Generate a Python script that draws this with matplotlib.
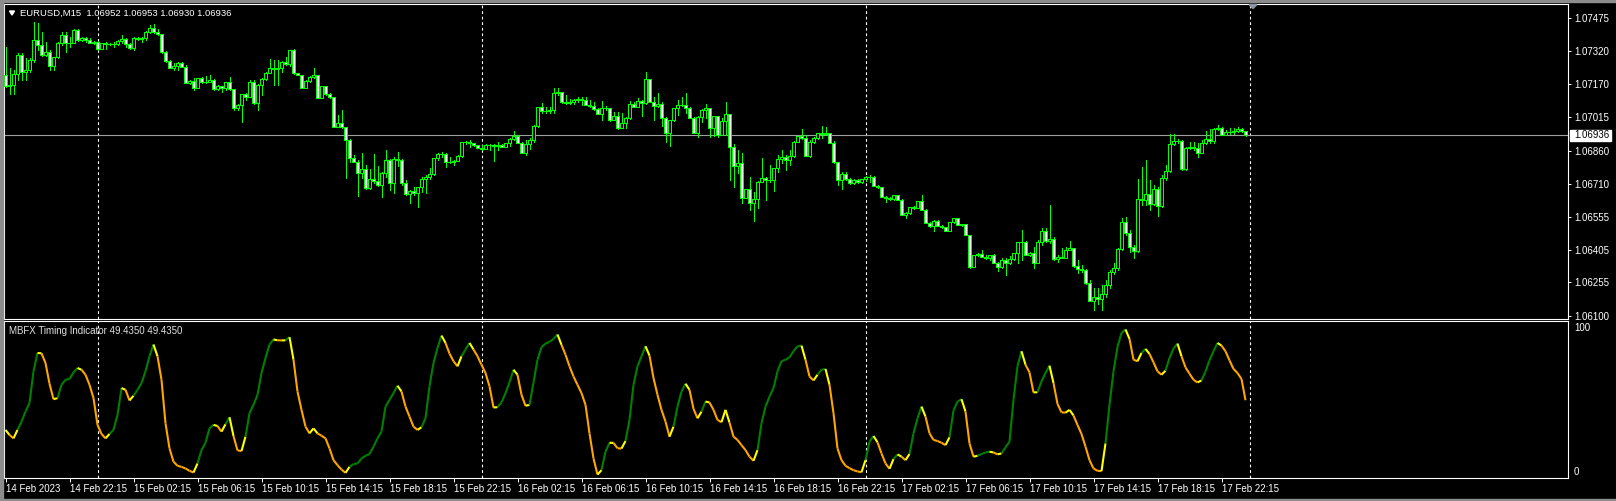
import numpy as np
import matplotlib
matplotlib.use("Agg")
import matplotlib.pyplot as plt
from matplotlib.collections import LineCollection
from matplotlib.patches import Rectangle, Polygon

plt.rcParams["font.family"] = ["Liberation Sans", "DejaVu Sans"]

# EURUSD M15 bars, 14 Feb 18:15 -> 17 Feb 23:45
# prices in points above 1.06000 (1 point = 0.00001)
opens = [
    1211, 1160, 1165, 1216, 1303, 1225, 1234, 1280, 1373, 1350,
    1303, 1317, 1252, 1294, 1359, 1396, 1359, 1360, 1419, 1373,
    1382, 1373, 1359, 1364, 1331, 1359, 1354, 1355, 1354, 1368,
    1377, 1354, 1336, 1382, 1377, 1382, 1410, 1428, 1410, 1400,
    1317, 1275, 1243, 1252, 1266, 1248, 1174, 1183, 1151, 1197,
    1178, 1179, 1188, 1146, 1160, 1151, 1178, 1146, 1059, 1073,
    1124, 1110, 1178, 1082, 1165, 1193, 1220, 1243, 1239, 1243,
    1271, 1262, 1326, 1220, 1211, 1151, 1183, 1202, 1211, 1105,
    1160, 1124, 1110, 971, 990, 971, 912, 829, 810, 759,
    778, 690, 732, 722, 704, 759, 819, 713, 824, 819,
    713, 663, 676, 667, 695, 732, 741, 755, 829, 847,
    848, 810, 811, 815, 838, 903, 904, 898, 889, 875,
    870, 889, 890, 884, 889, 879, 898, 916, 930, 898,
    852, 893, 912, 976, 1064, 1045, 1046, 1050, 1128, 1133,
    1087, 1082, 1087, 1096, 1100, 1096, 1073, 1068, 1054, 1031,
    1059, 1058, 1004, 1022, 967, 990, 1013, 1077, 1064, 1091,
    1082, 1193, 1087, 1068, 1077, 1013, 944, 1004, 1059, 1073,
    1074, 1059, 1013, 944, 1018, 1050, 1059, 967, 1022, 935,
    999, 1031, 879, 792, 805, 644, 686, 621, 639, 718,
    736, 727, 728, 782, 824, 833, 819, 838, 903, 930,
    921, 838, 903, 921, 944, 939, 944, 898, 810, 727,
    755, 732, 713, 727, 718, 732, 741, 742, 699, 695,
    649, 644, 639, 658, 635, 566, 575, 603, 598, 630,
    589, 529, 515, 538, 515, 511, 492, 534, 552, 520,
    524, 474, 326, 381, 386, 372, 367, 381, 344, 326,
    358, 344, 363, 391, 441, 442, 381, 391, 344, 441,
    492, 446, 455, 363, 372, 367, 404, 414, 331, 317,
    312, 252, 169, 188, 178, 201, 243, 303, 321, 409,
    534, 483, 418, 400, 639, 635, 663, 617, 686, 607,
    736, 769, 893, 907, 908, 778, 875, 879, 875, 852,
    898, 916, 907, 962, 967, 935, 948, 949, 953, 962, 952,
]
closes = [
    1160, 1165, 1216, 1303, 1225, 1234, 1280, 1373, 1350, 1303,
    1317, 1252, 1294, 1359, 1396, 1359, 1360, 1419, 1373, 1382,
    1373, 1359, 1364, 1331, 1359, 1354, 1355, 1354, 1368, 1377,
    1354, 1336, 1382, 1377, 1382, 1410, 1428, 1410, 1400, 1317,
    1275, 1243, 1252, 1266, 1248, 1174, 1183, 1151, 1197, 1178,
    1179, 1188, 1146, 1160, 1151, 1178, 1146, 1059, 1073, 1124,
    1110, 1178, 1082, 1165, 1193, 1220, 1243, 1239, 1243, 1271,
    1262, 1326, 1220, 1211, 1151, 1183, 1202, 1211, 1105, 1160,
    1124, 1110, 971, 990, 971, 912, 829, 810, 759, 778,
    690, 732, 722, 704, 759, 819, 713, 824, 819, 713,
    663, 676, 667, 695, 732, 741, 755, 829, 847, 848,
    810, 811, 815, 838, 903, 904, 898, 889, 875, 870,
    889, 890, 884, 889, 879, 898, 916, 930, 898, 852,
    893, 912, 976, 1064, 1045, 1046, 1050, 1128, 1133, 1087,
    1082, 1087, 1096, 1100, 1096, 1073, 1068, 1054, 1031, 1059,
    1058, 1004, 1022, 967, 990, 1013, 1077, 1064, 1091, 1082,
    1193, 1087, 1068, 1077, 1013, 944, 1004, 1059, 1073, 1074,
    1059, 1013, 944, 1018, 1050, 1059, 967, 1022, 935, 999,
    1031, 879, 792, 805, 644, 686, 621, 639, 718, 736,
    727, 728, 782, 824, 833, 819, 838, 903, 930, 921,
    838, 903, 921, 944, 939, 944, 898, 810, 727, 755,
    732, 713, 727, 718, 732, 741, 742, 699, 695, 649,
    644, 639, 658, 635, 566, 575, 603, 598, 630, 589,
    529, 515, 538, 515, 511, 492, 534, 552, 520, 524,
    474, 326, 381, 386, 372, 367, 381, 344, 326, 358,
    344, 363, 391, 441, 442, 381, 391, 344, 441, 492,
    446, 455, 363, 372, 367, 404, 414, 331, 317, 312,
    252, 169, 188, 178, 201, 243, 303, 321, 409, 534,
    483, 418, 400, 639, 635, 663, 617, 686, 607, 736,
    769, 893, 907, 908, 778, 875, 879, 875, 852, 898,
    916, 907, 962, 967, 935, 948, 949, 953, 962, 952, 936,
]
highs = [
    1341, 1243, 1234, 1312, 1312, 1289, 1289, 1456, 1451, 1410,
    1364, 1326, 1296, 1361, 1410, 1410, 1387, 1423, 1423, 1387,
    1387, 1382, 1368, 1368, 1360, 1364, 1359, 1364, 1373, 1396,
    1382, 1359, 1387, 1387, 1387, 1414, 1442, 1447, 1423, 1401,
    1322, 1280, 1266, 1271, 1271, 1257, 1188, 1197, 1198, 1202,
    1206, 1211, 1193, 1165, 1161, 1179, 1202, 1147, 1077, 1125,
    1128, 1188, 1188, 1169, 1197, 1225, 1285, 1280, 1280, 1275,
    1294, 1327, 1331, 1221, 1212, 1188, 1206, 1243, 1212, 1161,
    1161, 1128, 1111, 1027, 1050, 972, 916, 842, 819, 852,
    796, 778, 847, 792, 764, 866, 824, 833, 856, 824,
    727, 681, 695, 696, 741, 750, 782, 830, 852, 856,
    849, 833, 819, 842, 904, 907, 912, 899, 890, 889,
    893, 893, 891, 903, 893, 899, 921, 953, 935, 903,
    912, 921, 981, 1065, 1082, 1064, 1064, 1151, 1151, 1134,
    1119, 1100, 1100, 1110, 1110, 1110, 1096, 1087, 1059, 1091,
    1068, 1059, 1041, 1041, 1036, 1018, 1091, 1087, 1105, 1096,
    1225, 1194, 1110, 1128, 1087, 1018, 1005, 1060, 1096, 1110,
    1128, 1064, 1018, 1022, 1055, 1077, 1060, 1023, 1023, 1013,
    1087, 1032, 893, 866, 852, 687, 741, 672, 723, 829,
    741, 796, 783, 842, 866, 842, 866, 907, 931, 963,
    935, 912, 926, 945, 976, 971, 945, 907, 811, 764,
    764, 736, 732, 732, 733, 746, 750, 743, 704, 696,
    653, 649, 659, 659, 639, 580, 604, 607, 631, 658,
    593, 534, 543, 543, 520, 512, 535, 553, 553, 525,
    525, 475, 382, 391, 404, 381, 382, 386, 349, 367,
    367, 377, 392, 442, 497, 446, 395, 418, 451, 506,
    506, 612, 464, 381, 414, 418, 446, 415, 358, 335,
    317, 266, 229, 229, 243, 266, 312, 344, 414, 552,
    557, 497, 427, 732, 787, 819, 727, 704, 695, 750,
    796, 939, 939, 916, 912, 879, 903, 903, 898, 912,
    953, 963, 967, 981, 971, 958, 967, 967, 971, 967, 953,
]
lows = [
    1156, 1124, 1124, 1188, 1188, 1188, 1225, 1271, 1326, 1300,
    1298, 1234, 1234, 1289, 1350, 1317, 1341, 1359, 1368, 1368,
    1364, 1358, 1354, 1326, 1330, 1331, 1350, 1341, 1350, 1359,
    1341, 1331, 1326, 1373, 1364, 1373, 1405, 1405, 1396, 1312,
    1271, 1242, 1234, 1234, 1246, 1173, 1169, 1142, 1150, 1174,
    1174, 1178, 1142, 1142, 1133, 1142, 1142, 1050, 1050, 995,
    1096, 1109, 1077, 1050, 1119, 1188, 1219, 1165, 1165, 1225,
    1257, 1252, 1216, 1210, 1150, 1150, 1178, 1197, 1104, 1104,
    1119, 1105, 970, 970, 967, 736, 810, 809, 653, 736,
    686, 686, 713, 699, 649, 741, 681, 667, 792, 704,
    658, 621, 658, 603, 672, 667, 732, 750, 819, 833,
    787, 806, 796, 814, 833, 893, 879, 884, 874, 866,
    869, 866, 815, 866, 878, 878, 884, 912, 897, 851,
    842, 870, 903, 971, 1036, 1036, 1036, 1036, 1119, 1082,
    1077, 1077, 1077, 1087, 1073, 1072, 1064, 1050, 1030, 1004,
    1050, 999, 1003, 962, 966, 967, 1008, 1063, 1063, 1022,
    1077, 1086, 1004, 1064, 976, 903, 884, 999, 1027, 1068,
    1036, 1012, 943, 926, 995, 1013, 926, 930, 926, 934,
    935, 727, 695, 759, 621, 643, 589, 538, 598, 717,
    635, 718, 676, 764, 805, 773, 796, 833, 902, 916,
    837, 833, 898, 916, 921, 935, 897, 806, 704, 686,
    727, 709, 709, 713, 713, 722, 718, 698, 690, 648,
    626, 635, 635, 634, 565, 552, 570, 593, 597, 588,
    528, 510, 492, 514, 506, 491, 491, 529, 519, 515,
    473, 321, 325, 377, 371, 363, 358, 343, 308, 321,
    289, 340, 358, 344, 358, 380, 377, 321, 343, 427,
    441, 437, 358, 349, 366, 366, 403, 326, 298, 303,
    247, 168, 128, 155, 128, 188, 229, 294, 312, 404,
    474, 395, 367, 395, 612, 612, 589, 612, 561, 603,
    727, 764, 889, 898, 773, 773, 870, 866, 833, 851,
    893, 898, 898, 958, 934, 934, 939, 939, 948, 948, 930,
]

# MBFX Timing Indicator, one value per bar
timing = [
    30.5, 27.3, 25.1, 30.5, 35.8, 42.2, 47.6, 67.9, 79.6, 79.4,
    73.2, 60.0, 50.1, 50.8, 59.3, 62.5, 63.0, 67.2, 70.0, 68.9,
    65.7, 59.3, 50.8, 33.7, 27.9, 25.1, 27.9, 30.5, 40.1, 57.2,
    56.1, 49.3, 52.3, 56.1, 60.4, 67.9, 77.5, 85.0, 77.5, 62.5,
    34.7, 18.7, 10.2, 7.6, 6.9, 5.9, 4.4, 3.3, 9.1, 17.6,
    22.3, 31.5, 33.7, 33.0, 29.4, 34.1, 38.6, 26.6, 17.4, 17.0,
    26.2, 41.2, 46.5, 52.9, 66.8, 76.4, 85.0, 88.2, 87.7, 87.6,
    87.7, 89.7, 75.3, 55.0, 43.3, 32.6, 28.3, 31.5, 28.3, 26.8,
    25.1, 18.7, 11.2, 8.0, 5.2, 3.1, 6.9, 8.7, 9.1, 12.3,
    14.0, 15.1, 19.8, 25.1, 29.4, 45.4, 49.7, 54.0, 58.7, 55.0,
    45.4, 39.0, 32.6, 30.5, 32.2, 37.9, 58.3, 73.2, 82.8, 90.7,
    86.0, 79.2, 74.3, 71.1, 77.5, 81.8, 86.0, 81.8, 77.5, 72.1,
    66.8, 58.3, 44.8, 45.0, 48.0, 54.0, 60.8, 68.9, 65.7, 52.9,
    45.9, 46.5, 60.8, 75.3, 83.3, 85.6, 86.7, 88.6, 91.4, 84.8,
    78.5, 71.1, 64.6, 59.3, 54.0, 46.5, 28.3, 12.3, 2.0, 4.8,
    16.6, 22.3, 22.2, 18.8, 18.6, 23.4, 36.9, 59.3, 71.1, 77.5,
    83.9, 77.9, 63.6, 52.9, 43.3, 35.8, 26.2, 32.6, 45.4, 55.0,
    60.0, 56.1, 43.9, 37.9, 42.2, 48.6, 48.0, 43.3, 36.9, 35.4,
    43.3, 35.2, 26.2, 24.1, 20.8, 17.6, 13.4, 10.8, 17.6, 34.7,
    45.4, 51.8, 57.2, 67.9, 74.3, 75.3, 76.8, 80.7, 83.9, 84.3,
    75.3, 64.6, 62.1, 65.7, 68.9, 69.4, 59.3, 41.2, 18.7, 11.2,
    7.6, 6.1, 4.8, 4.0, 3.5, 11.2, 23.0, 26.6, 22.6, 15.5,
    9.1, 5.7, 11.9, 14.9, 13.4, 11.2, 15.1, 28.3, 37.9, 45.4,
    39.0, 28.3, 24.1, 23.4, 22.3, 20.8, 25.8, 42.9, 48.6, 50.1,
    42.2, 21.9, 13.4, 14.0, 15.1, 16.1, 16.6, 16.1, 14.9, 15.5,
    19.4, 23.0, 49.7, 71.1, 80.7, 72.1, 67.2, 54.4, 54.6, 61.5,
    66.8, 71.5, 60.4, 47.1, 41.7, 41.5, 43.3, 39.7, 33.7, 27.9,
    19.8, 11.2, 5.9, 4.4, 4.2, 21.9, 46.5, 67.9, 83.5, 92.4,
    94.6, 88.6, 75.3, 74.3, 79.6, 82.2, 79.0, 73.6, 67.9, 65.7,
    68.3, 76.4, 82.4, 85.6, 77.5, 70.4, 66.4, 62.5, 60.8, 62.1,
    67.9, 74.9, 80.7, 86.0, 84.3, 80.7, 74.9, 69.4, 66.8, 63.0, 49.435,
]

time_labels = [
    "14 Feb 2023", "14 Feb 22:15", "15 Feb 02:15", "15 Feb 06:15", "15 Feb 10:15",
    "15 Feb 14:15", "15 Feb 18:15", "15 Feb 22:15", "16 Feb 02:15", "16 Feb 06:15",
    "16 Feb 10:15", "16 Feb 14:15", "16 Feb 18:15", "16 Feb 22:15", "17 Feb 02:15",
    "17 Feb 06:15", "17 Feb 10:15", "17 Feb 14:15", "17 Feb 18:15", "17 Feb 22:15",
]
price_ticks = [1.07475, 1.07320, 1.07170, 1.07015, 1.06860,
               1.06710, 1.06555, 1.06405, 1.06255, 1.06100]
day_starts = [23, 119, 215, 311]   # bar index of each midnight
bid = 1.06936
last_ohlc = "1.06952 1.06953 1.06930 1.06936"

W, H = 1616, 501
lime = "#00ff00"

o = 1.06 + np.array(opens) / 1e5
c = 1.06 + np.array(closes) / 1e5
hi = 1.06 + np.array(highs) / 1e5
lo = 1.06 + np.array(lows) / 1e5
x = np.arange(len(c))


def box(x0, y0, x1, y1):
    return [x0 / W, 1 - y1 / H, (x1 - x0) / W, (y1 - y0) / H]


fig = plt.figure(figsize=(W / 100, H / 100), dpi=100, facecolor="black")
ax = fig.add_axes(box(4.3, 4.3, 1568.3, 319))
ax2 = fig.add_axes(box(4.3, 321, 1568.3, 477.7))

for a in (ax, ax2):
    a.set_facecolor("black")
    for s in a.spines.values():
        s.set_color("white")
        s.set_linewidth(0.8)
    a.set_xlim(-0.3, 390.7)
    for d in day_starts:
        a.axvline(d, color="white", lw=0.8, ls=(0, (2.5, 2.5)), zorder=1)

# candles: lime wicks/outline, black body when up, white body when down
ax.vlines(x, lo, hi, color=lime, lw=0.7, antialiased=False, zorder=2)
bull = c >= o
ax.bar(x, np.abs(c - o), bottom=np.minimum(o, c), width=0.55,
       color=np.where(bull, "black", "white"), edgecolor=lime,
       linewidth=0.7, antialiased=False, zorder=3)
ax.axhline(bid, color="#a0a0a0", lw=0.8, zorder=1.5)

ax.set_ylim(1.06086, 1.075368)
ax.set_xticks([])
ax.yaxis.tick_right()
ax.set_yticks(price_ticks)
ax.set_yticklabels([f"{p:.5f}" for p in price_ticks])
ax.tick_params(axis="y", colors="white", length=2.5, width=0.7, pad=1.8,
               labelsize=7)

# indicator line coloured by direction
v = np.array(timing)
rising = np.r_[True, v[1:] > v[:-1]]
pts = np.column_stack([x, v])
segs = np.stack([pts[:-1], pts[1:]], axis=1)
cols = []
for i in range(1, len(v)):
    if rising[i - 1] and rising[i]:
        cols.append("#008000")
    elif not rising[i - 1] and not rising[i]:
        cols.append("#ffa500")
    else:
        cols.append("#ffff00")
ax2.add_collection(LineCollection(segs, colors=cols, linewidths=1.5, zorder=3))
ax2.set_ylim(0, 100)
ax2.set_yticks([])
ax2.set_xticks(np.arange(0, len(v), 16))
ax2.set_xticklabels(time_labels, ha="left")
ax2.tick_params(axis="x", colors="white", length=3, width=0.7, pad=1.5,
                labelsize=7)

# texts
fig.text(20 / W, 1 - 13 / H, "EURUSD,M15  " + last_ohlc, color="white",
         fontsize=6.8, va="center", ha="left")
fig.patches.append(Polygon([[9.5 / W, 1 - 11 / H], [14.5 / W, 1 - 11 / H],
                            [12 / W, 1 - 15 / H]], closed=True,
                           transform=fig.transFigure, color="white"))
fig.text(9.3 / W, 1 - 331 / H,
         f"MBFX Timing Indicator {timing[-1]:.4f} {timing[-1]:.4f}",
         color="#e0e0e0", fontsize=7, va="center", ha="left")
fig.text(1574 / W, 1 - 328 / H, "100", color="white", fontsize=7, va="center")
fig.text(1574 / W, 1 - 472 / H, "0", color="white", fontsize=7, va="center")

# current price label
fig.patches.append(Rectangle((1569.5 / W, 1 - 140.5 / H), 41 / W, 10.5 / H,
                             transform=fig.transFigure, color="white"))
fig.text(1574 / W, 1 - 135.5 / H, f"{bid:.5f}", color="black", fontsize=7,
         va="center", ha="left")

# chart shift marker
fig.patches.append(Polygon([[1249 / W, 1 - 4.5 / H], [1257 / W, 1 - 4.5 / H],
                            [1253 / W, 1 - 8.5 / H]], closed=True,
                           transform=fig.transFigure, color="#8a96a4"))

# window frame
for r in [(0, 0, 2.5, H), (0, 0, W, 1.7), (0, H - 2.5, W, 2.5)]:
    fig.patches.append(Rectangle((r[0] / W, 1 - (r[1] + r[3]) / H),
                                 r[2] / W, r[3] / H,
                                 transform=fig.transFigure, color="#8c8c8c"))

fig.savefig("out.png", dpi=100, facecolor="black")
